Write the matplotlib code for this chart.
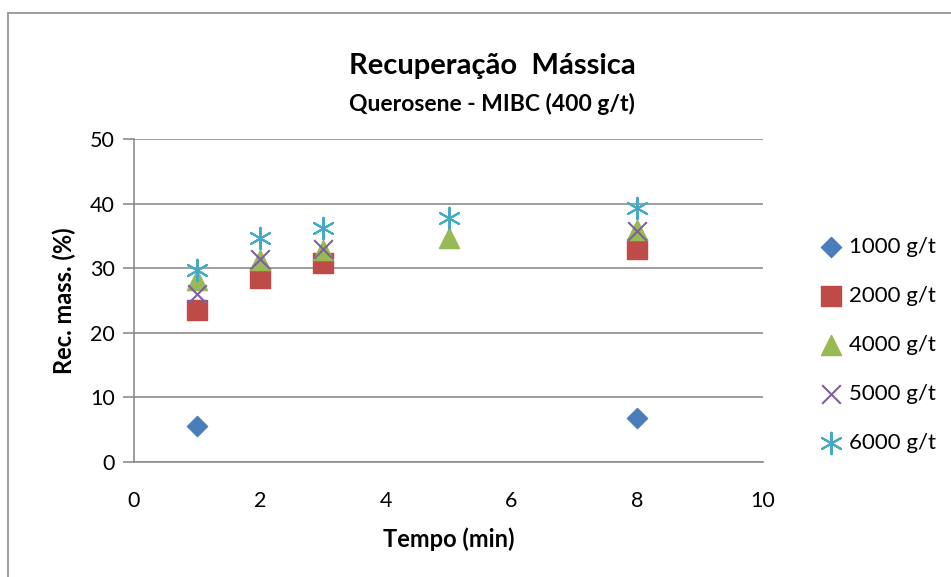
import matplotlib.pyplot as plt
from matplotlib.patches import Rectangle

plt.rcParams['font.family'] = ['Lato', 'DejaVu Sans']

# Data
t_1000 = [1, 8]
r_1000 = [5.6, 6.8]
t_2000 = [1, 2, 3, 8]
r_2000 = [23.5, 28.5, 30.8, 33.0]
t_4000 = [1, 2, 3, 5, 8]
r_4000 = [28.2, 31.3, 32.8, 34.7, 35.9]
t_5000 = [1, 2, 3, 8]
r_5000 = [26.0, 31.5, 33.0, 35.7]
t_6000 = [1, 2, 3, 5, 8]
r_6000 = [29.7, 34.7, 36.2, 37.8, 39.3]

W, H = 951, 577
fig = plt.figure(figsize=(W / 100, H / 100), dpi=100)
fig.patch.set_facecolor('white')

# outer chart frame (runs off the bottom/right edge)
fig.patches.append(Rectangle((8 / W, -0.1), 1.2, 1 - 13 / H + 0.1,
                             transform=fig.transFigure, fill=False,
                             edgecolor='#8c8c8c', linewidth=1.2))

ax = fig.add_axes([134 / W, 1 - 462 / H, (763 - 134) / W, (462 - 139) / H])
ax.set_xlim(0, 10)
ax.set_ylim(0, 50)
ax.set_xticks([0, 2, 4, 6, 8, 10])
ax.set_yticks([0, 10, 20, 30, 40, 50])
ax.yaxis.grid(True, color='#8c8c8c', linewidth=1.2)
ax.set_axisbelow(True)
for s in ['top', 'right']:
    ax.spines[s].set_visible(False)
for s in ['left', 'bottom']:
    ax.spines[s].set_color('#8c8c8c')
    ax.spines[s].set_linewidth(1.2)
ax.tick_params(axis='y', length=8, color='#8c8c8c', width=1.2, labelsize=15.5, pad=6)
ax.tick_params(axis='x', length=0, labelsize=15.5, pad=21)

ax.scatter(t_1000, r_1000, marker='D', s=105, color='#4a7ebb', label='1000 g/t', zorder=3)
ax.scatter(t_2000, r_2000, marker='s', s=220, color='#be4b48', label='2000 g/t', zorder=3)
ax.scatter(t_4000, r_4000, marker='^', s=210, color='#98b954', label='4000 g/t', zorder=3)
ax.scatter(t_5000, r_5000, marker='x', s=180, color='#7d60a0', linewidths=1.5, label='5000 g/t', zorder=4)
ax.scatter(t_6000, r_6000, marker=(6, 2, 0), s=240, color='#46aac5', linewidths=1.5, label='6000 g/t', zorder=5)

ax.set_xlabel('Tempo (min)', fontsize=17, fontweight='bold', labelpad=12)
ax.set_ylabel('Rec. mass. (%)', fontsize=17, fontweight='bold', labelpad=10)

fig.text(492 / W, 1 - 66 / H, 'Recuperação  Mássica', ha='center', va='center',
         fontsize=21, fontweight='bold')
fig.text(492 / W, 1 - 104 / H, 'Querosene - MIBC (400 g/t)', ha='center', va='center',
         fontsize=16.5, fontweight='bold')

ax.legend(loc='center left', bbox_to_anchor=(805 / W, 1 - 345 / H),
          bbox_transform=fig.transFigure, frameon=False, fontsize=16,
          handletextpad=0.1, labelspacing=1.3, borderaxespad=0, handlelength=1.5)

fig.savefig('out.png', dpi=100)
